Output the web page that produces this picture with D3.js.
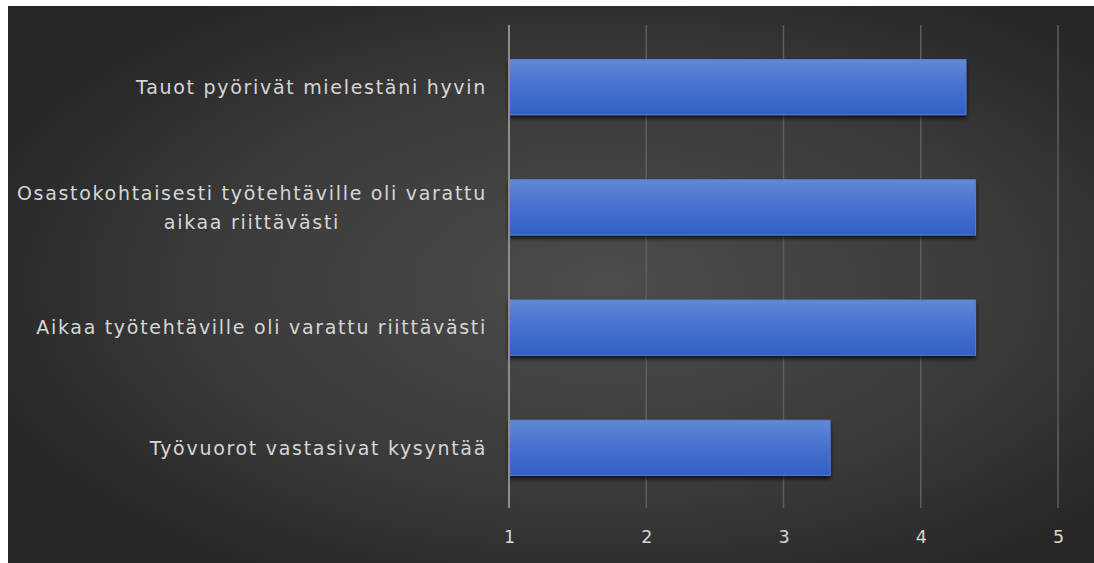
<!DOCTYPE html>
<html>
<head>
<meta charset="utf-8">
<script src="https://cdn.jsdelivr.net/npm/d3@7/dist/d3.min.js"></script>
<style>
  html, body { margin: 0; padding: 0; background: #ffffff; }
  svg { display: block; }
</style>
</head>
<body>
<svg id="chart" width="1094" height="563"></svg>
<script>
// Survey statements (top to bottom) and their mean scores on a 1–5 scale
const categories = [
  "Tauot pyörivät mielestäni hyvin",
  "Osastokohtaisesti työtehtäville oli varattu aikaa riittävästi",
  "Aikaa työtehtäville oli varattu riittävästi",
  "Työvuorot vastasivat kysyntää"
];
const values = [4.33, 4.4, 4.4, 3.34];
const tickValues = [1, 2, 3, 4, 5];
// Line breaks for long category labels
const labelLines = [
  ["Tauot pyörivät mielestäni hyvin"],
  ["Osastokohtaisesti työtehtäville oli varattu", "aikaa riittävästi"],
  ["Aikaa työtehtäville oli varattu riittävästi"],
  ["Työvuorot vastasivat kysyntää"]
];

const svg = d3.select("#chart");
const W = 1094, H = 563;
const plot = { left: 509, right: 1058, top: 27, bottom: 508 };

const defs = svg.append("defs");

// dark backdrop, lighter toward the middle
const bg = defs.append("radialGradient")
  .attr("id", "bgGrad")
  .attr("cx", "0.55").attr("cy", "0.5").attr("r", "0.62");
bg.append("stop").attr("offset", "0%").attr("stop-color", "#4c4c4c");
bg.append("stop").attr("offset", "60%").attr("stop-color", "#3a3a3a");
bg.append("stop").attr("offset", "100%").attr("stop-color", "#262626");

const barGrad = defs.append("linearGradient")
  .attr("id", "barGrad").attr("x1", 0).attr("y1", 0).attr("x2", 0).attr("y2", 1);
barGrad.append("stop").attr("offset", "0%").attr("stop-color", "#6288d6");
barGrad.append("stop").attr("offset", "50%").attr("stop-color", "#4670cf");
barGrad.append("stop").attr("offset", "100%").attr("stop-color", "#3160c6");

const shadow = defs.append("filter").attr("id", "barShadow")
  .attr("x", "-5%").attr("y", "-20%").attr("width", "110%").attr("height", "150%");
shadow.append("feDropShadow")
  .attr("dx", 0).attr("dy", 3).attr("stdDeviation", 2)
  .attr("flood-color", "#000000").attr("flood-opacity", 0.75);

svg.append("rect")
  .attr("x", 8).attr("y", 6)
  .attr("width", W - 8).attr("height", H - 6)
  .attr("fill", "url(#bgGrad)");

const x = d3.scaleLinear().domain([1, 5]).range([plot.left, plot.right]);
const y = d3.scaleBand().domain(categories).range([plot.top, plot.bottom]).paddingInner(0.54).paddingOuter(0.27);

// vertical gridlines
svg.append("g")
  .selectAll("line")
  .data(tickValues.slice(1))
  .join("line")
  .attr("x1", d => x(d)).attr("x2", d => x(d))
  .attr("y1", 25).attr("y2", plot.bottom)
  .attr("stroke", "#5e5e5e")
  .attr("stroke-width", 1.5);

// bars
svg.append("g")
  .selectAll("rect")
  .data(categories)
  .join("rect")
  .attr("x", x(1))
  .attr("y", d => y(d))
  .attr("width", (d, i) => x(values[i]) - x(1))
  .attr("height", y.bandwidth())
  .attr("fill", "url(#barGrad)")
  .attr("stroke", "#5d86d8")
  .attr("stroke-width", 0.8)
  .attr("filter", "url(#barShadow)");

// value axis baseline at 1
svg.append("line")
  .attr("x1", x(1)).attr("x2", x(1))
  .attr("y1", 25).attr("y2", plot.bottom)
  .attr("stroke", "#8e8e8e")
  .attr("stroke-width", 2);

const fontFamily = "'DejaVu Sans', sans-serif";
const textColor = "#d6d6d6";

// x axis tick labels
const xAxis = d3.axisBottom(x).tickValues(tickValues).tickFormat(d3.format("d")).tickSize(0).tickPadding(0);
const gx = svg.append("g")
  .attr("transform", `translate(0, 531)`)
  .call(xAxis);
gx.select(".domain").remove();
gx.selectAll("text")
  .attr("fill", textColor)
  .attr("font-family", fontFamily)
  .attr("font-size", 17.5)
  .attr("dy", "0.35em")
  .attr("y", 6);

// category labels
const labelSize = 19;
const labelSpacing = 1.7;
const gy = svg.append("g");
categories.forEach((c, i) => {
  const lines = labelLines[i];
  const cy = y(c) + y.bandwidth() / 2;
  const lh = 29;
  const t0 = (lines.length - 1) / 2;
  const first = gy.append("text")
    .attr("x", 487)
    .attr("y", cy + (0 - t0) * lh)
    .attr("dy", "0.35em")
    .attr("text-anchor", "end")
    .attr("fill", textColor)
    .attr("font-family", fontFamily)
    .attr("font-size", labelSize)
    .attr("letter-spacing", labelSpacing)
    .text(lines[0]);
  if (lines.length > 1) {
    const w = first.node().getComputedTextLength();
    const mid = 487 - w / 2;
    for (let k = 1; k < lines.length; k++) {
      gy.append("text")
        .attr("x", mid)
        .attr("y", cy + (k - t0) * lh)
        .attr("dy", "0.35em")
        .attr("text-anchor", "middle")
        .attr("fill", textColor)
        .attr("font-family", fontFamily)
        .attr("font-size", labelSize)
        .attr("letter-spacing", labelSpacing)
        .text(lines[k]);
    }
  }
});
</script>
</body>
</html>
